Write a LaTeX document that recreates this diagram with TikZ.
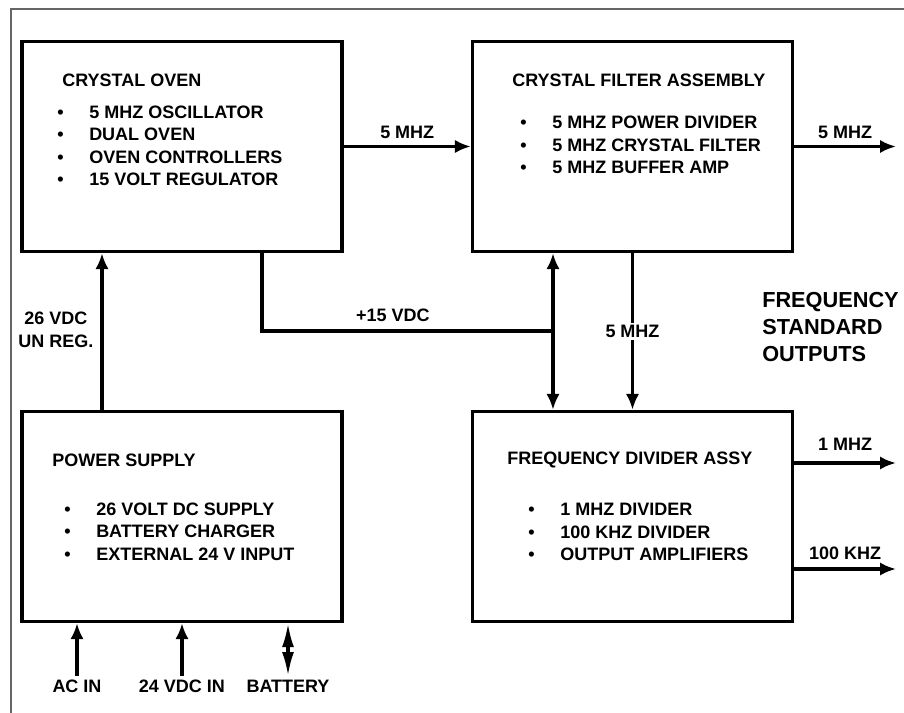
\documentclass[tikz,border=0pt]{standalone}
\usepackage{fontspec}
\setmainfont{Liberation Sans}
\usetikzlibrary{arrows.meta,positioning,calc}
\newcommand{\blt}{\makebox[24pt][l]{\textbullet}}

\begin{document}
\begin{tikzpicture}[x=0.75pt,y=-0.75pt,>={Latex[length=12pt,width=10pt]},
  font=\fontsize{13.5}{16.9}\selectfont\bfseries,
  blk/.style={draw,line width=2.4pt,minimum width=240pt,minimum height=157.5pt,inner sep=0pt},
  wire/.style={line width=2.4pt},
  txt/.style={anchor=west,inner sep=0pt,align=left},
  lbl/.style={inner sep=2pt}]
  \useasboundingbox (0,0) rectangle (904,713);
  \draw[gray!80!black,line width=1.1pt] (904,9) -- (11,9) -- (11,713);

  % blocks
  \node[blk] (oven) at (182,146.5) {};
  \node[blk] (filter) at (632.5,146.5) {};
  \node[blk] (psu) at (182,516.5) {};
  \node[blk] (div) at (632.5,516.5) {};

  % block texts
  \node[txt] (ovent) at (62,80) {CRYSTAL OVEN};
  \node[txt] (ovenl) at (57,146) {\blt 5 MHZ OSCILLATOR\\ \blt DUAL OVEN\\ \blt OVEN CONTROLLERS\\ \blt 15 VOLT REGULATOR};
  \node[txt] (filtert) at (512,80) {CRYSTAL FILTER ASSEMBLY};
  \node[txt] (filterl) at (520,145) {\blt 5 MHZ POWER DIVIDER\\ \blt 5 MHZ CRYSTAL FILTER\\ \blt 5 MHZ BUFFER AMP};
  \node[txt] (psut) at (52,460) {POWER SUPPLY};
  \node[txt] (psul) at (64,531.5) {\blt 26 VOLT DC SUPPLY\\ \blt BATTERY CHARGER\\ \blt EXTERNAL 24 V INPUT};
  \node[txt] (divt) at (507,460) {FREQUENCY DIVIDER ASSY};
  \node[txt] (divl) at (528,532) {\blt 1 MHZ DIVIDER\\ \blt 100 KHZ DIVIDER\\ \blt OUTPUT AMPLIFIERS};

  \node[txt,font=\fontsize{16.3}{20}\selectfont\bfseries] (fso) at (762,327) {FREQUENCY\\STANDARD\\OUTPUTS};

  % free ends and bends
  \coordinate (out5) at (896,146.5);
  \coordinate (out1) at (896,463);
  \coordinate (out100) at (896,569);
  \coordinate (v26) at (102,330);
  \coordinate (tap) at (262,331);
  \coordinate (jn) at (553,331);
  \coordinate (acin) at (77,676);
  \coordinate (dcin) at (182,676);
  \coordinate (batt) at (288,676);

  % connectors
  \draw[wire,->] (oven.east) -- (filter.west) node[lbl,midway,above=3pt] {5 MHZ};
  \draw[wire,->] (filter.east) -- (out5) node[lbl,midway,above=3pt] {5 MHZ};
  \draw[wire,->] (out1 -| div.east) -- (out1) node[lbl,midway,above=6pt] {1 MHZ};
  \draw[wire,->] (out100 -| div.east) -- (out100) node[lbl,midway,above=4pt] {100 KHZ};
  \draw[wire,->] (v26 |- psu.north) -- (v26 |- oven.south);
  \node[lbl,align=center] (v26t) at (56,330) {26 VDC\\UN REG.};
  \draw[wire] (tap |- oven.south) -- (tap) -- (jn) node[lbl,pos=0.45,above=4pt] {+15 VDC};
  \draw[wire,<->] (jn |- filter.south) -- (jn |- div.north);
  \draw[wire,->] (filter.south) -- (div.north) node[lbl,midway,fill=white] {5 MHZ};

  \draw[wire,->] (acin) -- (acin |- psu.south);
  \draw[wire,->] (dcin) -- (dcin |- psu.south);
  \draw[wire,{Latex[length=18pt,width=9pt]}-{Latex[length=18pt,width=9pt]}] (batt) -- (batt |- psu.south);
  \node[lbl,below=1pt of acin] (acint) {AC IN};
  \node[lbl,below=1pt of dcin] (dcint) {24 VDC IN};
  \node[lbl,below=1pt of batt] (battt) {BATTERY};
\end{tikzpicture}
\end{document}
